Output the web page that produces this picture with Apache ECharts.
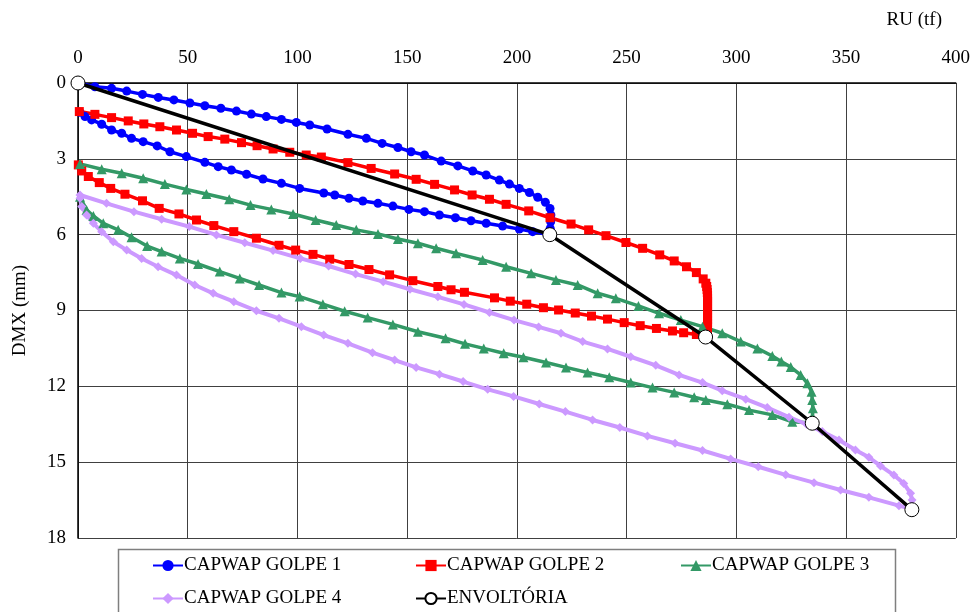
<!DOCTYPE html>
<html>
<head>
<meta charset="utf-8">
<script src="https://cdn.jsdelivr.net/npm/echarts@6/dist/echarts.min.js"></script>
<style>html,body{margin:0;padding:0;background:#fff;}#chart{width:973px;height:612px;}</style>
</head>
<body>
<div id="chart"></div>
<script>
const seriesNames = ['CAPWAP GOLPE 1', 'CAPWAP GOLPE 2', 'CAPWAP GOLPE 3', 'CAPWAP GOLPE 4', 'ENVOLTÓRIA'];
const xTicks = [0, 50, 100, 150, 200, 250, 300, 350, 400];
const yTicks = [0, 3, 6, 9, 12, 15, 18];

const golpe1RU = [0, 7.7, 15.3, 22.2, 29.4, 36.6, 43.7, 51.0, 57.8, 65.1, 72.2, 79.0, 85.8, 92.7, 99.5, 105.6, 113.5, 123.0, 131.4, 138.6, 145.8, 151.8, 157.9, 165.5, 173.1, 179.9, 186.0, 192.0, 196.6, 201.1, 205.7, 209.5, 213.0, 215.1, 215.5, 215.4, 215.2, 215.0,
  207.2, 201.1, 193.5, 186.0, 179.1, 172.0, 164.7, 157.9, 150.8, 143.5, 136.7, 129.8, 123.5, 117.0, 112.0, 101.0, 92.7, 84.3, 76.8, 69.9, 63.9, 57.8, 49.4, 41.9, 36.1, 29.7, 24.4, 19.9, 15.3, 10.8, 6.2, 3.2, 0.9];
const golpe1DMX = [0, 0.15, 0.21, 0.32, 0.45, 0.57, 0.67, 0.79, 0.90, 1.0, 1.11, 1.23, 1.33, 1.44, 1.56, 1.66, 1.82, 2.03, 2.19, 2.39, 2.55, 2.72, 2.85, 3.09, 3.28, 3.48, 3.64, 3.84, 4.0, 4.17, 4.33, 4.52, 4.72, 4.96, 5.22, 5.49, 5.75, 6.0,
  5.88, 5.78, 5.66, 5.55, 5.45, 5.33, 5.22, 5.09, 5.0, 4.87, 4.76, 4.67, 4.56, 4.43, 4.35, 4.17, 3.97, 3.80, 3.61, 3.44, 3.31, 3.14, 2.91, 2.72, 2.49, 2.32, 2.19, 1.99, 1.86, 1.63, 1.46, 1.33, 1.16];

const golpe2RU = [0.6, 7.7, 15.3, 22.9, 30.0, 37.3, 44.9, 52.2, 59.3, 66.9, 74.5, 81.6, 88.9, 96.5, 104.0, 110.9, 123.0, 133.6, 144.3, 154.1, 162.5, 171.6, 179.6, 187.5, 195.1, 205.4, 215.1, 224.7, 232.7, 240.6, 249.7, 257.3, 265.1, 271.7, 277.3, 281.8, 284.9, 286.1, 286.5, 286.7, 286.8, 286.9, 286.9, 286.9, 286.9, 286.9, 286.9, 286.9, 286.9, 286.9, 286.9, 286.9, 286.8, 286.7, 286.5, 286.2,
  281.8, 276.0, 270.9, 263.6, 256.2, 248.9, 241.3, 234.0, 226.6, 219.0, 212.1, 204.5, 197.0, 189.8, 176.1, 170.0, 164.0, 152.6, 142.0, 132.6, 123.5, 114.7, 107.1, 99.2, 91.6, 81.3, 71.0, 61.9, 54.0, 46.0, 37.0, 29.4, 21.4, 14.9, 9.7, 4.7, 1.7, 0.15];
const golpe2DMX = [1.13, 1.24, 1.37, 1.50, 1.62, 1.73, 1.86, 1.99, 2.12, 2.22, 2.36, 2.48, 2.61, 2.74, 2.85, 2.93, 3.15, 3.38, 3.60, 3.81, 4.01, 4.23, 4.43, 4.60, 4.80, 5.06, 5.33, 5.58, 5.81, 6.04, 6.31, 6.54, 6.80, 7.04, 7.27, 7.50, 7.75, 7.92, 8.05, 8.17, 8.29, 8.41, 8.53, 8.65, 8.77, 8.89, 9.01, 9.13, 9.25, 9.37, 9.49, 9.61, 9.72, 9.82, 9.91, 9.98,
  9.95, 9.88, 9.81, 9.71, 9.60, 9.48, 9.34, 9.22, 9.10, 8.98, 8.89, 8.75, 8.63, 8.50, 8.28, 8.18, 8.05, 7.82, 7.59, 7.38, 7.18, 6.97, 6.78, 6.61, 6.42, 6.14, 5.88, 5.64, 5.42, 5.18, 4.96, 4.66, 4.40, 4.17, 3.94, 3.70, 3.48, 3.24];

const golpe3RU = [0.9, 10.8, 19.9, 29.7, 39.6, 49.4, 58.5, 68.9, 78.6, 88.1, 98.0, 108.3, 117.7, 126.8, 136.7, 145.8, 154.9, 163.2, 172.3, 184.4, 195.1, 206.5, 217.8, 227.7, 236.8, 245.1, 255.4, 264.8, 274.7, 284.6, 293.6, 302.0, 309.6, 316.4, 320.5, 324.8, 329.3, 332.4, 334.3, 334.6, 334.9, 334.7, 334.5,
  325.5, 316.4, 305.8, 295.9, 286.1, 280.8, 271.7, 261.8, 251.9, 242.1, 232.2, 222.4, 213.3, 203.0, 194.0, 184.9, 176.4, 167.5, 154.9, 143.5, 132.0, 121.5, 111.6, 101.0, 92.7, 82.5, 73.7, 64.6, 54.7, 46.4, 38.1, 31.5, 24.4, 18.3, 11.5, 7.0, 3.9, 2.1, 0.9];
const golpe3DMX = [3.20, 3.41, 3.57, 3.77, 4.00, 4.21, 4.39, 4.60, 4.83, 5.00, 5.18, 5.42, 5.62, 5.81, 5.97, 6.17, 6.34, 6.54, 6.74, 7.00, 7.27, 7.53, 7.79, 7.99, 8.32, 8.52, 8.82, 9.11, 9.38, 9.64, 9.90, 10.23, 10.50, 10.80, 11.02, 11.24, 11.55, 11.88, 12.21, 12.54, 12.87, 13.2, 13.45,
  13.40, 13.13, 12.94, 12.71, 12.54, 12.43, 12.24, 12.05, 11.85, 11.64, 11.45, 11.25, 11.06, 10.85, 10.69, 10.50, 10.32, 10.10, 9.84, 9.55, 9.28, 9.03, 8.75, 8.45, 8.29, 7.99, 7.73, 7.46, 7.16, 6.94, 6.67, 6.45, 6.10, 5.81, 5.55, 5.26, 5.02, 4.76, 4.50];

const golpe4RU = [0.9, 13.0, 25.5, 38.1, 50.7, 63.1, 76.0, 88.9, 101.3, 114.2, 126.5, 139.1, 151.3, 164.0, 175.9, 187.5, 198.7, 209.9, 220.1, 230.0, 241.3, 251.9, 263.3, 273.9, 284.6, 293.6, 304.3, 314.1, 324.0, 332.0, 339.2, 346.8, 354.3, 360.4, 365.7, 371.8, 376.3, 379.4, 380.1, 379.7,
  374.1, 360.4, 347.5, 335.4, 322.5, 310.0, 297.4, 284.6, 272.1, 259.5, 246.9, 234.5, 222.1, 210.2, 198.5, 186.7, 175.5, 164.7, 154.1, 144.3, 134.2, 123.0, 112.0, 101.8, 91.6, 81.3, 71.0, 61.6, 53.2, 44.9, 36.5, 29.0, 22.2, 16.1, 10.8, 7.0, 3.9, 1.7, 0.9];
const golpe4DMX = [4.43, 4.76, 5.09, 5.39, 5.68, 6.01, 6.32, 6.63, 6.94, 7.24, 7.56, 7.86, 8.16, 8.46, 8.76, 9.08, 9.38, 9.65, 9.90, 10.23, 10.52, 10.83, 11.17, 11.55, 11.85, 12.17, 12.51, 12.84, 13.22, 13.50, 13.79, 14.12, 14.52, 14.81, 15.15, 15.51, 15.84, 16.23, 16.50, 16.85,
  16.72, 16.39, 16.10, 15.81, 15.50, 15.18, 14.87, 14.54, 14.25, 13.96, 13.63, 13.33, 13.00, 12.70, 12.40, 12.12, 11.81, 11.52, 11.25, 10.96, 10.67, 10.30, 9.97, 9.64, 9.31, 9.01, 8.65, 8.32, 7.99, 7.60, 7.27, 6.94, 6.61, 6.28, 5.88, 5.55, 5.22, 4.89, 4.56];

const envRU = [0, 215, 286, 334.6, 380];
const envDMX = [0, 6.0, 10.05, 13.46, 16.88];

function pairs(xs, ys) { return xs.map((x, i) => [x, ys[i]]); }

const FONT = '"Liberation Serif", "Times New Roman", serif';
const FS = 19;
const chart = echarts.init(document.getElementById('chart'), null, {renderer: 'canvas'});

function lineSeries(name, xs, ys, color, symbol, size, width) {
  return {
    name: name, type: 'line', data: pairs(xs, ys), clip: false,
    symbol: symbol, symbolSize: size, showAllSymbol: true,
    lineStyle: {color: color, width: width}, itemStyle: {color: color, borderWidth: 0},
    emphasis: {disabled: true}, animation: false
  };
}

const legendPos = [[152, 556], [415, 556], [680, 556], [152, 589], [415, 589]];
const legends = seriesNames.map((n, i) => ({
  data: [n], left: legendPos[i][0], top: legendPos[i][1], padding: 0,
  itemWidth: 30, itemHeight: 14, selectedMode: false,
  textStyle: {fontFamily: FONT, fontSize: FS, color: '#000', padding: [0, 0, 0, -4]}
}));

chart.setOption({
  animation: false,
  backgroundColor: '#fff',
  title: {text: 'RU (tf)', right: 26, top: 6, textStyle: {fontFamily: FONT, fontSize: FS, fontWeight: 'normal', color: '#000'}},
  graphic: [{
    type: 'rect', left: 116, top: 547, silent: true,
    shape: {width: 777, height: 80},
    style: {fill: 'none', stroke: '#7f7f7f', lineWidth: 1.5}
  }],
  grid: {left: 78, top: 83, right: 16, bottom: 74, containLabel: false},
  xAxis: {
    type: 'value', position: 'top', min: xTicks[0], max: xTicks[xTicks.length - 1], interval: xTicks[1] - xTicks[0],
    axisLine: {show: true, lineStyle: {color: '#000', width: 1.5}},
    axisTick: {show: false},
    axisLabel: {fontFamily: FONT, fontSize: FS, color: '#000', margin: 15},
    splitLine: {show: true, lineStyle: {color: '#404040', width: 1}}
  },
  yAxis: {
    type: 'value', inverse: true, min: yTicks[0], max: yTicks[yTicks.length - 1], interval: yTicks[1] - yTicks[0],
    name: 'DMX (mm)', nameLocation: 'middle', nameGap: 48, nameRotate: 90,
    nameTextStyle: {fontFamily: FONT, fontSize: FS, color: '#000'},
    axisLine: {show: true, lineStyle: {color: '#000', width: 1.5}},
    axisTick: {show: false},
    axisLabel: {fontFamily: FONT, fontSize: FS, color: '#000', margin: 12},
    splitLine: {show: true, lineStyle: {color: '#404040', width: 1}}
  },
  legend: legends,
  series: [
    lineSeries(seriesNames[0], golpe1RU, golpe1DMX, '#0000FF', 'circle', 9, 3.5),
    lineSeries(seriesNames[1], golpe2RU, golpe2DMX, '#FF0000', 'rect', 9, 3.5),
    lineSeries(seriesNames[2], golpe3RU, golpe3DMX, '#339966', 'triangle', 10, 3.5),
    lineSeries(seriesNames[3], golpe4RU, golpe4DMX, '#CC99FF', 'diamond', 9, 4),
    {
      name: seriesNames[4], type: 'line', data: pairs(envRU, envDMX), clip: false,
      symbol: 'circle', symbolSize: 14, showAllSymbol: true,
      lineStyle: {color: '#000', width: 3.5},
      itemStyle: {color: '#fff', borderColor: '#000', borderWidth: 1},
      emphasis: {disabled: true}, z: 5, animation: false
    }
  ]
});
</script>
</body>
</html>
